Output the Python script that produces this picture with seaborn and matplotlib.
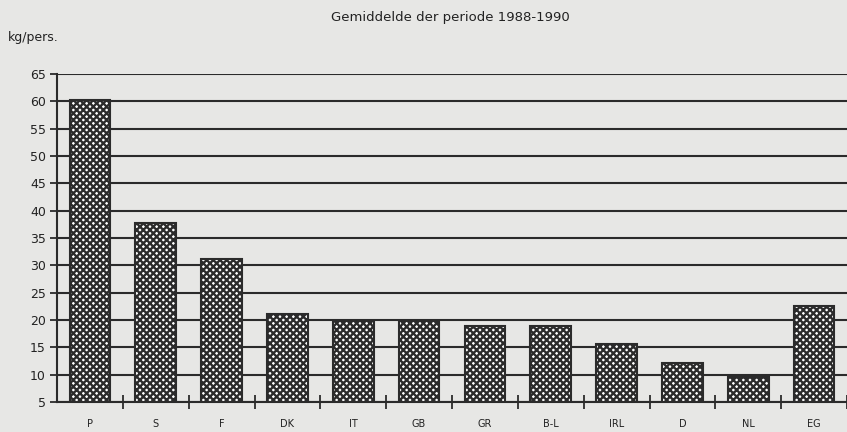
import matplotlib
matplotlib.use("Agg")
import matplotlib.pyplot as plt
import seaborn as sns
import pandas as pd

# data (kg per person, average 1988-1990)
countries = ["P", "S", "F", "DK", "IT", "GB", "GR", "B-L", "IRL", "D", "NL", "EG"]
kg_per_person = [60.3, 37.8, 31.2, 21.1, 19.9, 19.9, 18.9, 18.9, 15.7, 12.1, 9.6, 22.6]
y_ticks = [5, 10, 15, 20, 25, 30, 35, 40, 45, 50, 55, 60, 65]

df = pd.DataFrame({"Land": countries, "kg": kg_per_person})

sns.set_style("white")
plt.rcParams["font.family"] = ["DejaVu Sans"]
plt.rcParams["hatch.linewidth"] = 1.7
plt.rcParams["hatch.color"] = "#2a2a2a"

bg = "#e7e7e5"
ink = "#2b2b2b"

fig = plt.figure(figsize=(8.47, 4.32), dpi=100, facecolor=bg)
ax = fig.add_axes([57 / 847, 1 - 402 / 432, 1 - 57 / 847, (402 - 74) / 432])
ax.set_facecolor(bg)

# horizontal grid lines behind the bars
for t in y_ticks:
    ax.axhline(t, color=ink, lw=1.5, zorder=0)

sns.barplot(data=df, x="Land", y="kg", color="white", width=0.62,
            edgecolor=ink, linewidth=1.5, hatch="xxxxx", ax=ax, zorder=2)

ax.set_ylim(5, 65)
ax.set_xlim(-0.5, 11.45)
ax.set_yticks(y_ticks)
ax.set_yticklabels([str(t) for t in y_ticks], fontsize=9, color="#222222")
ax.tick_params(axis="y", left=True, direction="out", length=5, width=1.3, color=ink, pad=3)

# category labels in the middle, tick marks on the boundaries
ax.set_xticks(range(len(countries)))
ax.set_xticklabels(countries, fontsize=7, color="#222222")
ax.tick_params(axis="x", which="major", bottom=True, length=0, pad=12)
ax.set_xticks([i + 0.5 for i in range(len(countries))], minor=True)
ax.tick_params(axis="x", which="minor", bottom=True, direction="inout",
               length=10, width=1.3, color=ink)

ax.set_xlabel("")
ax.set_ylabel("")
for s in ["top", "right"]:
    ax.spines[s].set_visible(False)
ax.spines["left"].set_color(ink)
ax.spines["left"].set_linewidth(1.5)
ax.spines["bottom"].set_color(ink)
ax.spines["bottom"].set_linewidth(1.5)

fig.text(450 / 847, 1 - 17 / 432, "Gemiddelde der periode 1988-1990",
         ha="center", va="center", fontsize=9.5, color="#222222")
fig.text(8 / 847, 1 - 37 / 432, "kg/pers.", ha="left", va="center",
         fontsize=9, color="#222222")

fig.savefig("out.png", dpi=100, facecolor=bg)
